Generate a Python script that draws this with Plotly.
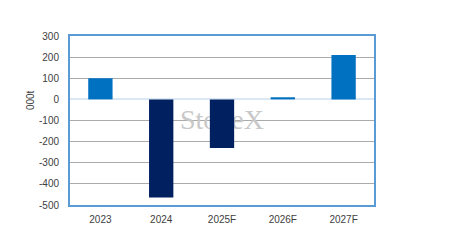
import plotly.graph_objects as go

categories = ["2023", "2024", "2025F", "2026F", "2027F"]
values = [100, -465, -230, 10, 210]
bar_colors = ["#0070C0", "#002060", "#002060", "#0070C0", "#0070C0"]
y_ticks = [300, 200, 100, 0, -100, -200, -300, -400, -500]
y_ticklabels = ["300", "200", "100", "0", "-100", "-200", "-300", "-400", "-500"]
y_title = "000t"
watermark = "StoneX"

fig = go.Figure()

# watermark on the base subplot (drawn beneath bars)
fig.add_trace(go.Scatter(
    x=[categories[2]], y=[-105], mode="text", text=[watermark],
    textfont=dict(family="Liberation Serif", size=28, color="#c8c8c8"),
    hoverinfo="skip", showlegend=False, xaxis="x", yaxis="y",
))

fig.add_trace(go.Bar(
    x=categories, y=values, marker=dict(color=bar_colors, line=dict(width=0)),
    width=0.4, showlegend=False, xaxis="x2", yaxis="y2",
))

font = dict(family="Liberation Sans", size=10, color="#404040")

fig.update_layout(
    width=454, height=251,
    margin=dict(l=70, r=80, t=36, b=46),
    paper_bgcolor="white", plot_bgcolor="white",
    font=font,
    xaxis=dict(
        type="category", categoryorder="array", categoryarray=categories,
        range=[-0.5, len(categories) - 0.5],
        showgrid=False, showline=True, linecolor="#5B9BD5", linewidth=2,
        mirror=True, ticks="", ticklabelstandoff=4, tickfont=font,
    ),
    yaxis=dict(
        range=[-500, 300], tickvals=y_ticks, ticktext=y_ticklabels,
        showgrid=True, gridcolor="#ababab", gridwidth=1,
        zeroline=True, zerolinecolor="#dae8f6", zerolinewidth=2,
        showline=True, linecolor="#5B9BD5", linewidth=2, mirror=True,
        ticks="", ticklabelstandoff=7, tickfont=font,
    ),
    xaxis2=dict(overlaying="x", matches="x", visible=False, type="category",
                categoryorder="array", categoryarray=categories),
    yaxis2=dict(overlaying="y", matches="y", visible=False),
    annotations=[dict(
        text=y_title, textangle=-90, xref="paper", yref="paper",
        x=-0.132, y=0.62, xanchor="center", yanchor="middle",
        showarrow=False, font=font,
    )],
)

fig.write_html("out.html")
